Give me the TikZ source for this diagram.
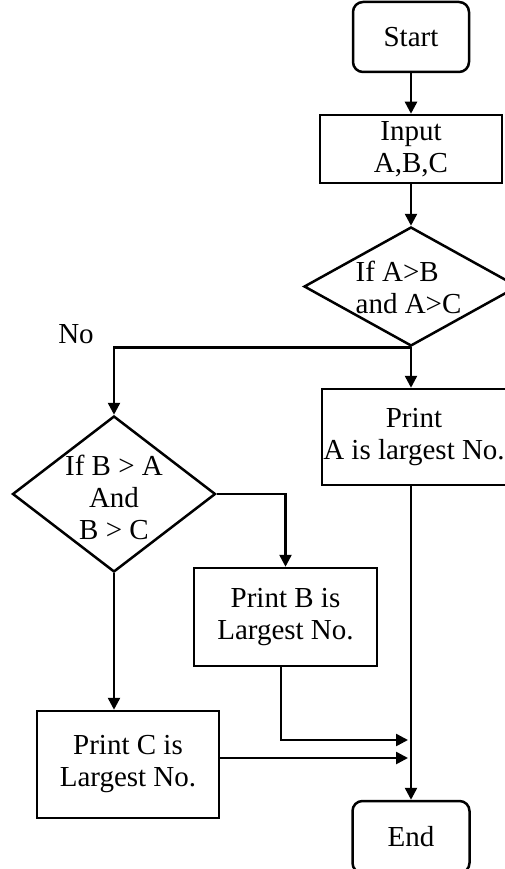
\documentclass[tikz,border=0pt]{standalone}
\usepackage{fontspec}
\setmainfont{Liberation Serif}
\usetikzlibrary{arrows.meta,shapes.geometric}
\begin{document}
\begin{tikzpicture}[x=1pt,y=-1pt,
  line width=2.5pt,
  every node/.style={font=\fontsize{29}{32}\selectfont, inner sep=0pt},
  box/.style={draw, rectangle, align=center},
  rbox/.style={draw, rectangle, rounded corners=10pt, align=center},
  dia/.style={draw, diamond},
  txt/.style={align=center},
  arr/.style={-{Triangle[length=12pt,width=12pt]}}]
\useasboundingbox (0,0) rectangle (504,869);
% nodes
\node[rbox, minimum width=116pt, minimum height=70pt] (start) at (411,37) {Start};
\node[box, minimum width=182pt, minimum height=68pt] (input) at (411,149) {Input\\A,B,C};
\node[dia, minimum width=214pt, minimum height=119pt] (d1) at (411,286.5) {};
\node[align=left] (d1t) at (408.5,287) {If A>B\\and A>C};
\node[box, minimum width=184pt, minimum height=96pt] (printA) at (414,437) {Print\\A is largest No.};
\node[dia, minimum width=203pt, minimum height=156pt] (d2) at (114,494) {};
\node[txt] (d2t) at (114,497) {If B > A\\And\\B > C};
\node[box, minimum width=183pt, minimum height=98pt] (printB) at (285.5,617) {Print B is\\Largest No.};
\node[box, minimum width=182pt, minimum height=107pt] (printC) at (128,764.5) {Print C is\\Largest No.};
\node[rbox, minimum width=117pt, minimum height=72pt] (end) at (411,837) {End};
\node (no) at (76,334) {No};
\coordinate (jB) at (408,740);
\coordinate (jC) at (408,758);
% connectors
\draw[arr] (start.south) -- (input.north);
\draw[arr] (input.south) -- (d1.north);
\draw[arr] (d1.south) -- (d1.south |- printA.north);
\draw[arr] (d1.south) -| (d2.north);
\draw[arr] (d2.east) -| (printB.north);
\draw[arr] (d2.south) -- (d2.south |- printC.north);
\draw[arr] ([xshift=-4.5pt]printB.south) |- (jB);
\draw[arr] (printC.east |- jC) -- (jC);
\draw[arr] (end.north |- printA.south) -- (end.north);
\end{tikzpicture}
\end{document}
